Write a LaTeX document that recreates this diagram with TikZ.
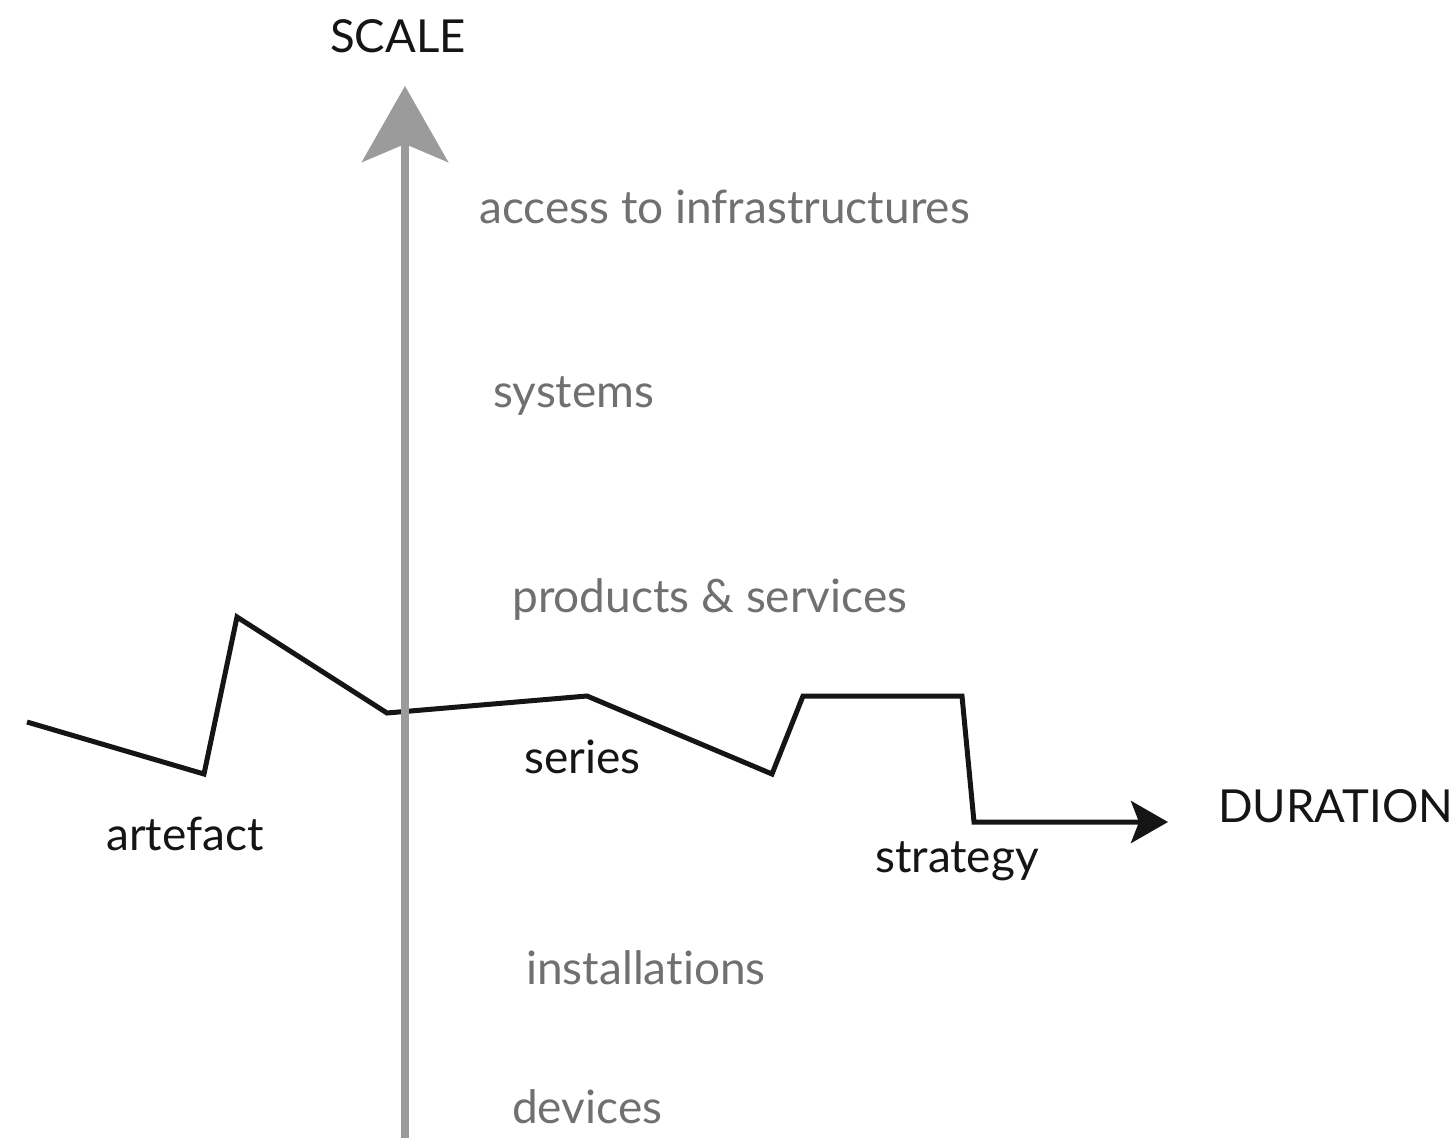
\documentclass[tikz,border=0pt]{standalone}
\usepackage{fontspec}
\setmainfont{Lato}[Ligatures=NoCommon]
\usepackage{xcolor}
\usepackage{tikz}
\usetikzlibrary{arrows.meta}
\definecolor{axisgray}{HTML}{9B9B9B}
\definecolor{labelgray}{HTML}{707070}
\definecolor{inkblack}{HTML}{151515}

\begin{document}
\begin{tikzpicture}[x=1pt,y=-1pt,
    axisline/.style={draw=axisgray, line width=8pt, -{Stealth[length=76pt,width=86pt,inset=18pt]}},
    trendline/.style={draw=inkblack, line width=5pt, miter limit=10, -{Stealth[length=37pt,width=42pt,inset=8pt]}},
    scalelabel/.style={anchor=base west, inner sep=0pt, text=labelgray, font=\fontsize{46}{54}\selectfont},
    stagelabel/.style={anchor=base west, inner sep=0pt, text=inkblack, font=\fontsize{46}{54}\selectfont},
    axislabel/.style={anchor=base west, inner sep=0pt, text=inkblack, font=\fontsize{45.5}{54}\selectfont}]
\useasboundingbox (0,0) rectangle (1456,1143);
\node[axislabel] (scale) at (330,52) {SCALE};
\node[axislabel] (duration) at (1218,822) {DURATION};
\node[scalelabel] (access) at (479,223) {access to infrastructures};
\node[scalelabel] (systems) at (493,407) {systems};
\node[scalelabel] (products) at (512,612) {products \& services};
\node[stagelabel] (series) at (524,773) {series};
\node[stagelabel] (artefact) at (106,850) {artefact};
\node[stagelabel] (strategy) at (875,872) {strategy};
\node[scalelabel] (installations) at (526,984) {installations};
\node[scalelabel] (devices) at (512,1123) {devices};
\coordinate (axisbot) at (405,1138);
\coordinate (axistop) at (405,86);
\coordinate (trendstart) at (27,722);
\coordinate (trendend) at (1168,822);
% duration path first, scale axis drawn over it
\draw[trendline] (trendstart) -- (204,774) -- (237,617) -- (387,713) -- (587,696) -- (772,774) -- (803,696) -- (962,696) -- (974,822) -- (trendend);
\draw[axisline] (axisbot) -- (axistop);
\end{tikzpicture}
\end{document}
